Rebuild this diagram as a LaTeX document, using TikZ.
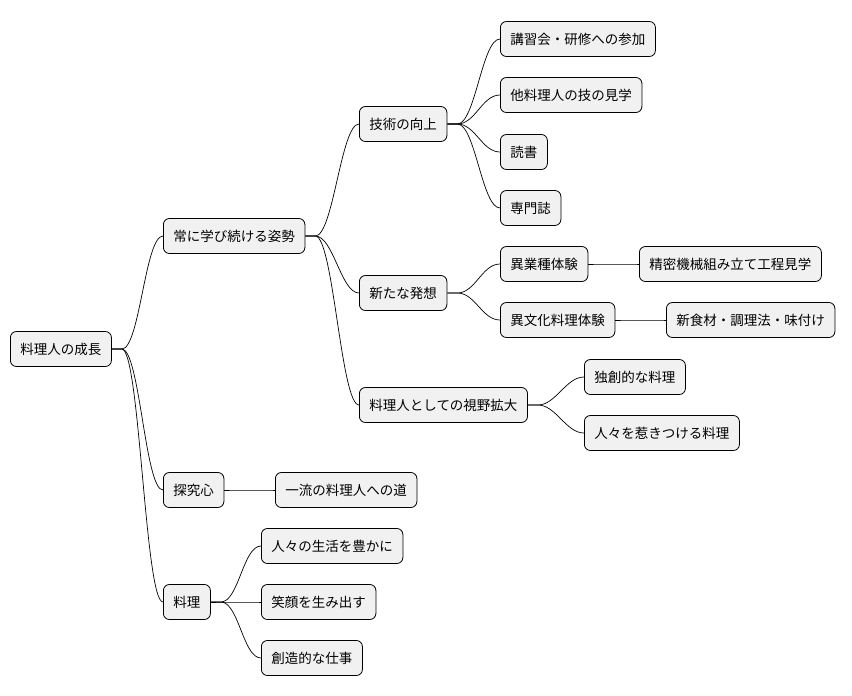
\documentclass[tikz,border=0pt]{standalone}
\usepackage{fontspec}
\setmainfont{Noto Sans CJK JP}
\begin{document}
\begin{tikzpicture}[x=1pt,y=-1pt,
  box/.style={draw=black,fill={rgb,255:red,241;green,241;blue,241},rounded corners=6pt,minimum height=35pt,inner xsep=10pt,inner ysep=0pt,anchor=west,font=\fontsize{13.5}{14}\selectfont,line width=0.8pt},
  edge/.style={line width=0.7pt}]
\useasboundingbox (0,0) rectangle (852,696);
\node[box] (r) at (10,349) {料理人の成長};
\node[box] (a) at (163,236) {常に学び続ける姿勢};
\node[box] (a1) at (359,124) {技術の向上};
\node[box] (a11) at (500,39) {講習会・研修への参加};
\node[box] (a12) at (500,95) {他料理人の技の見学};
\node[box] (a13) at (500,152) {読書};
\node[box] (a14) at (500,208) {専門誌};
\node[box] (a2) at (359,293) {新たな発想};
\node[box] (a21) at (500,264) {異業種体験};
\node[box] (a211) at (639,264) {精密機械組み立て工程見学};
\node[box] (a22) at (500,320) {異文化料理体験};
\node[box] (a221) at (666,320) {新食材・調理法・味付け};
\node[box] (a3) at (359,405) {料理人としての視野拡大};
\node[box] (a31) at (584,377) {独創的な料理};
\node[box] (a32) at (584,433) {人々を惹きつける料理};
\node[box] (b) at (163,490) {探究心};
\node[box] (b1) at (275,490) {一流の料理人への道};
\node[box] (c) at (163,602) {料理};
\node[box] (c1) at (261,546) {人々の生活を豊かに};
\node[box] (c2) at (261,602) {笑顔を生み出す};
\node[box] (c3) at (261,658) {創造的な仕事};
\foreach \p/\c in {r/a,r/b,r/c,a/a1,a/a2,a/a3,a1/a11,a1/a12,a1/a13,a1/a14,a2/a21,a2/a22,a21/a211,a22/a221,a3/a31,a3/a32,b/b1,c/c1,c/c2,c/c3}
  \draw[edge] (\p.east) -- ++(10,0) .. controls +(18,0) and +(-18,0) .. (\c.west);
\end{tikzpicture}
\end{document}
